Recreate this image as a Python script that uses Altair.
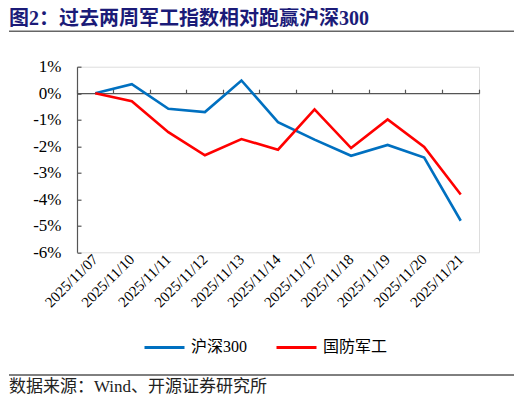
import altair as alt
import pandas as pd

dates = ["2025/11/07", "2025/11/10", "2025/11/11", "2025/11/12", "2025/11/13", "2025/11/14",
         "2025/11/17", "2025/11/18", "2025/11/19", "2025/11/20", "2025/11/21"]
hs300 = [0.0, 0.34, -0.59, -0.71, 0.48, -1.09, -1.75, -2.36, -1.95, -2.43, -4.81]
jungong = [0.0, -0.30, -1.47, -2.34, -1.73, -2.13, -0.61, -2.07, -0.99, -2.03, -3.82]
series_names = ["沪深300", "国防军工"]
series_colors = ["#0070C0", "#FF0000"]
y_ticks = [1, 0, -1, -2, -3, -4, -5, -6]

title_text = "图2：过去两周军工指数相对跑赢沪深300"
source_text = "数据来源：Wind、开源证券研究所"

rows = []
for d, a, b in zip(dates, hs300, jungong):
    rows.append({"date": d, "series": series_names[0], "value": a})
    rows.append({"date": d, "series": series_names[1], "value": b})
df = pd.DataFrame(rows)

W = 402
H = 185.6
SERIF = "Liberation Serif, Times New Roman, Noto Sans CJK SC"

xscale = alt.Scale(type="band", paddingInner=0, paddingOuter=0)
yscale = alt.Scale(domain=[-6, 1], nice=False, zero=False)

base = alt.Chart(df)

lines = base.mark_line(strokeWidth=2.6).encode(
    x=alt.X("date:O", sort=dates, scale=xscale, title=None,
            axis=alt.Axis(orient="bottom", domain=False, ticks=False, labelAngle=315,
                          labelAlign="right", labelBaseline="middle", labelPadding=4,
                          labelFont=SERIF, labelFontSize=15, labelColor="#000000",
                          labelOverlap=False)),
    y=alt.Y("value:Q", scale=yscale, title=None,
            axis=alt.Axis(orient="left", values=y_ticks, grid=False, ticks=False, tickSize=0,
                          domain=True, domainColor="#555555", domainWidth=1.2,
                          labelExpr="datum.value + '%'", labelPadding=16,
                          labelFont=SERIF, labelFontSize=17, labelColor="#000000")),
    color=alt.Color("series:N", sort=series_names,
                    scale=alt.Scale(domain=series_names, range=series_colors),
                    legend=alt.Legend(title=None, orient="none", direction="horizontal",
                                      legendX=66, legendY=259, symbolType="stroke",
                                      symbolSize=1600, symbolStrokeWidth=3,
                                      labelFont=SERIF, labelFontSize=16, labelColor="#000000",
                                      labelOffset=5, columnPadding=22)),
)

axes_layer = base.mark_line(opacity=0).encode(
    x=alt.X("date:O", sort=dates, scale=xscale, title=None,
            axis=alt.Axis(orient="top", offset=-26.5, labels=False, ticks=True, tickSize=4,
                          tickColor="#555555", tickWidth=1.2, domain=True,
                          domainColor="#555555", domainWidth=1.2,
                          bandPosition=1, tickExtra=True)),
    y=alt.Y("value:Q", scale=yscale, title=None,
            axis=alt.Axis(orient="left", values=y_ticks, grid=False, labels=False,
                          domain=False, ticks=True, tickSize=4, tickColor="#555555",
                          tickWidth=1.2, offset=-4)),
    detail="series:N",
)

ann = pd.DataFrame({"k": [0]})
title_mark = alt.Chart(ann).mark_text(
    text=title_text, align="left", baseline="alphabetic",
    font="Liberation Serif, Noto Sans CJK SC",
    fontWeight="bold", fontSize=20, color="#1B1B78"
).encode(x=alt.value(-68), y=alt.value(-41.2))

title_rule = alt.Chart(ann).mark_rule(color="#666666", strokeWidth=1.5).encode(
    x=alt.value(-68), x2=alt.value(439), y=alt.value(-35.5))

foot_rule = alt.Chart(ann).mark_rule(color="#000000", strokeWidth=1).encode(
    x=alt.value(-68), x2=alt.value(439), y=alt.value(308.3))

source_mark = alt.Chart(ann).mark_text(
    text=source_text, align="left", baseline="bottom", font=SERIF,
    fontSize=17, color="#222222"
).encode(x=alt.value(-68), y=alt.value(329.5))

chart = alt.layer(lines, axes_layer, title_mark, title_rule, foot_rule, source_mark).resolve_axis(
    x="independent", y="independent"
).properties(
    width=W, height=H,
    padding={"left": 69, "top": 58.7, "right": 35, "bottom": 144.7},
    autosize=alt.AutoSizeParams(type="none"),
).configure_view(stroke=None).configure(background="#ffffff")

chart.save("out.html", embed_options={"renderer": "svg", "actions": False})
